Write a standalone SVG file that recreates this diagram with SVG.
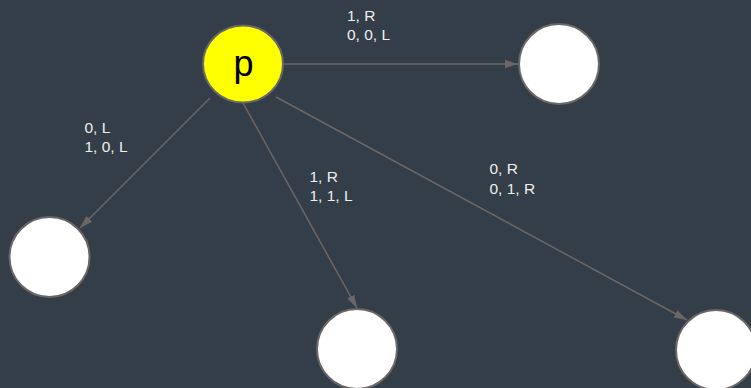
<svg xmlns="http://www.w3.org/2000/svg" width="751" height="388" viewBox="0 0 751 388">
<style>
.node{fill:#ffffff;stroke:#6b6767;stroke-width:2}
.edge{stroke:#6b6767;stroke-width:1.5;fill:none;marker-end:url(#ah)}
.lbl{font-family:"Liberation Sans",Arial,sans-serif;font-size:15.5px;fill:#eeeeee}
</style>
<defs>
<marker id="ah" viewBox="0 0 13 8" refX="13" refY="4" markerWidth="13" markerHeight="8" markerUnits="userSpaceOnUse" orient="auto">
<path d="M0,0 L13,4 L0,8 z" fill="#6b6767"/>
</marker>
</defs>
<rect width="751" height="388" fill="#333e48"/>
<g id="connectors">
<line class="edge" x1="283" y1="64" x2="518" y2="64"/>
<line class="edge" x1="210" y1="98" x2="80" y2="228"/>
<line class="edge" x1="243" y1="103" x2="357" y2="308"/>
<line class="edge" x1="276" y1="97" x2="687" y2="320"/>
</g>
<g id="labels">
<text class="lbl" x="347" y="21">1, R</text>
<text class="lbl" x="347" y="39.5">0, 0, L</text>
<text class="lbl" x="84.5" y="133">0, L</text>
<text class="lbl" x="84.5" y="152">1, 0, L</text>
<text class="lbl" x="309.5" y="182">1, R</text>
<text class="lbl" x="309.5" y="201">1, 1, L</text>
<text class="lbl" x="489.5" y="174">0, R</text>
<text class="lbl" x="489.5" y="193.5">0, 1, R</text>
</g>
<g id="node-p">
<ellipse cx="243" cy="64" rx="40" ry="38.5" fill="#ffff00" stroke="#6b6767" stroke-width="2"/>
<text x="243.5" y="76" text-anchor="middle" font-family="'Liberation Sans',Arial,sans-serif" font-size="36" fill="#000000">p</text>
</g>
<g id="node-top-right"><circle class="node" cx="559" cy="64" r="40"/></g>
<g id="node-left"><circle class="node" cx="49.5" cy="257" r="40"/></g>
<g id="node-bottom-middle"><circle class="node" cx="357" cy="349" r="40"/></g>
<g id="node-bottom-right"><circle class="node" cx="716" cy="350" r="40"/></g>
</svg>
